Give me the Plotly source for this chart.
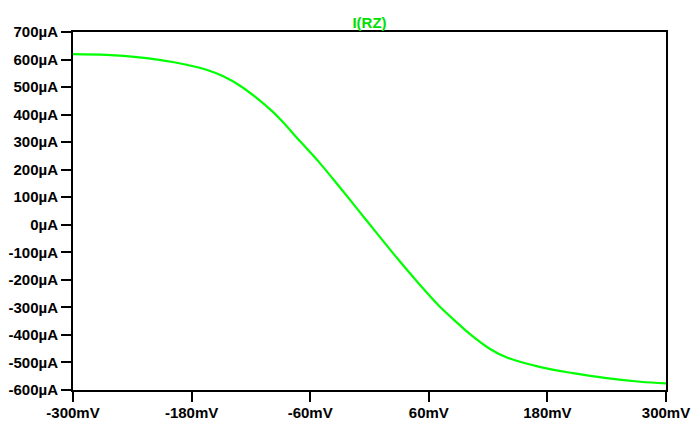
import plotly.graph_objects as go

# data
v_mV = [-300, -266, -233, -199, -165, -148, -131, -114, -98, -90, -70, -50, -30, -10,
        10, 30, 50, 70, 90, 102, 122, 139, 172, 206, 240, 274, 300]
i_uA = [620, 617, 608, 591, 563, 539, 505, 460, 411, 382, 302, 223, 136, 47,
        -42, -130, -214, -293, -360, -398, -451, -482, -516, -539, -557, -570, -576]

x_ticks = [-300, -180, -60, 60, 180, 300]
x_labels = ["-300mV", "-180mV", "-60mV", "60mV", "180mV", "300mV"]
y_ticks = list(range(-600, 701, 100))
y_labels = [f"{t}µA" for t in y_ticks]

font = dict(family="Liberation Sans, Arial, sans-serif", size=15, color="black")

fig = go.Figure()
fig.add_trace(go.Scatter(x=v_mV, y=i_uA, mode="lines",
                         line=dict(color="#00ff00", width=2.2, shape="spline", smoothing=1.0),
                         showlegend=False))

fig.update_layout(
    width=692, height=421,
    margin=dict(l=73, r=26, t=32, b=31),
    paper_bgcolor="white", plot_bgcolor="white",
    title=dict(text="<b>I(RZ)</b>", x=0.5, xref="paper", xanchor="center", y=1, yref="paper",
               yanchor="bottom", pad=dict(b=4),
               font=dict(family="Liberation Sans, Arial, sans-serif", size=15, color="#00e000")),
)
fig.update_xaxes(range=[-300, 300], tickvals=x_ticks, ticktext=[f"<b>{t}</b>" for t in x_labels],
                 showgrid=False, zeroline=False, automargin=False,
                 showline=True, linecolor="black", linewidth=2, mirror=True, ticks="outside", ticklen=10,
                 tickwidth=2, tickcolor="black", tickfont=font, ticklabelstandoff=-2)
fig.update_yaxes(range=[-600, 700], tickvals=y_ticks, ticktext=[f"<b>{t}</b>" for t in y_labels],
                 showgrid=False, zeroline=False, automargin=False,
                 showline=True, linecolor="black", linewidth=2, mirror=True, ticks="outside", ticklen=10,
                 tickwidth=2, tickcolor="black", tickfont=font)

fig.write_html("out.html")
